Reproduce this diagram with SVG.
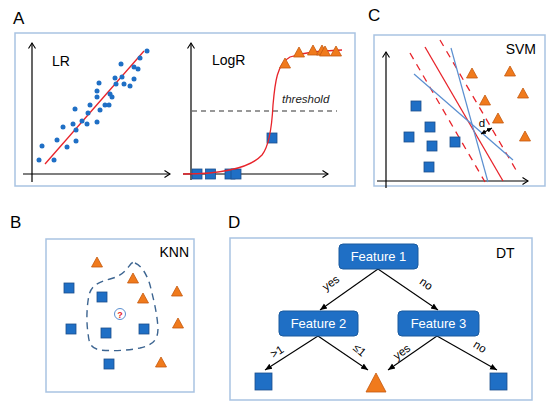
<svg xmlns="http://www.w3.org/2000/svg" width="550" height="409" viewBox="0 0 550 409">
<defs>
<marker id="ax" markerWidth="8" markerHeight="8" refX="6" refY="4" orient="auto" markerUnits="userSpaceOnUse">
<path d="M0.5,0.5 L6,4 L0.5,7.5" fill="none" stroke="#000" stroke-width="1.1"/>
</marker>
<marker id="ah" markerWidth="8" markerHeight="8" refX="7" refY="4" orient="auto" markerUnits="userSpaceOnUse">
<path d="M0,1 L7,4 L0,7 Z" fill="#000"/>
</marker>
<marker id="dh" markerWidth="6" markerHeight="6" refX="5" refY="3" orient="auto-start-reverse" markerUnits="userSpaceOnUse">
<path d="M0,0.5 L5,3 L0,5.5 Z" fill="#000"/>
</marker>
<path id="tri" d="M0,-5 L5.5,5 L-5.5,5 Z"/>
<rect id="sq" x="-5" y="-5" width="10" height="10"/>
</defs>
<style>
text{font-family:"Liberation Sans",Arial,sans-serif;}
.panel{fill:#fff;stroke:#a9c3e2;stroke-width:1.5;}
.lbl{font-size:17px;fill:#000;}
.ttl{font-size:14px;fill:#000;}
.axis{stroke:#000;stroke-width:1.2;fill:none;marker-end:url(#ax);}
.dot{fill:#1f6fc5;}
.s{fill:#1f6fc5;stroke:#1c4f8c;stroke-width:0.8;}
.t{fill:#f07a1c;stroke:#c4590f;stroke-width:0.8;}
.red{stroke:#e8232a;stroke-width:1.3;fill:none;}
.redd{stroke:#e8232a;stroke-width:1.3;fill:none;stroke-dasharray:7,6;}
.blu{stroke:#5b8fd0;stroke-width:1.2;fill:none;}
.node rect{fill:#1f6fc5;stroke:#1a5a9e;stroke-width:1;}
.node text{fill:#fff;font-size:13px;text-anchor:middle;}
.edge{stroke:#000;stroke-width:1.1;fill:none;marker-end:url(#ah);}
.el{font-size:11.5px;fill:#000;text-anchor:middle;}
</style>
<rect width="550" height="409" fill="#fff"/>

<g id="panelA">
<text class="lbl" x="13" y="24">A</text>
<rect class="panel" x="15" y="33" width="340" height="153"/>
<g id="LR">
<line class="axis" x1="32" y1="182" x2="32" y2="43"/>
<line class="axis" x1="23" y1="174" x2="170" y2="174"/>
<text class="ttl" x="52" y="66">LR</text>
<line class="red" x1="45" y1="164" x2="144" y2="51"/>
<g class="dot">
<circle cx="147" cy="51" r="2.5"/><circle cx="140" cy="58" r="2.5"/><circle cx="121" cy="64" r="2.5"/>
<circle cx="134" cy="67" r="2.5"/><circle cx="138" cy="69" r="2.5"/><circle cx="115" cy="78" r="2.5"/>
<circle cx="122" cy="77" r="2.5"/><circle cx="134" cy="79" r="2.5"/><circle cx="99" cy="83" r="2.5"/>
<circle cx="116" cy="84" r="2.5"/><circle cx="124" cy="84" r="2.5"/><circle cx="130" cy="86" r="2.5"/>
<circle cx="97" cy="91" r="2.5"/><circle cx="97" cy="97" r="2.5"/><circle cx="110" cy="94" r="2.5"/>
<circle cx="112" cy="97" r="2.5"/><circle cx="105" cy="105" r="2.5"/><circle cx="109" cy="105" r="2.5"/>
<circle cx="90" cy="105" r="2.5"/><circle cx="75" cy="109" r="2.5"/><circle cx="100" cy="110" r="2.5"/>
<circle cx="88" cy="113" r="2.5"/><circle cx="82" cy="121" r="2.5"/><circle cx="73" cy="124" r="2.5"/>
<circle cx="87" cy="124" r="2.5"/><circle cx="97" cy="122" r="2.5"/><circle cx="63" cy="127" r="2.5"/>
<circle cx="76" cy="130" r="2.5"/><circle cx="57" cy="140" r="2.5"/><circle cx="76" cy="141" r="2.5"/>
<circle cx="67" cy="147" r="2.5"/><circle cx="42" cy="146" r="2.5"/><circle cx="39" cy="160" r="2.5"/>
<circle cx="54" cy="160" r="2.5"/>
</g>
</g>
<g id="LogR">
<line class="axis" x1="191" y1="180" x2="191" y2="43"/>
<line class="axis" x1="183" y1="174" x2="328" y2="174"/>
<text class="ttl" x="212" y="65">LogR</text>
<line x1="192" y1="111" x2="337" y2="111" stroke="#333" stroke-width="1.2" stroke-dasharray="5,4"/>
<text x="282" y="103" font-size="11.5" font-style="italic" fill="#222">threshold</text>
<use href="#sq" class="s" x="197" y="174"/>
<use href="#sq" class="s" x="210.5" y="174"/>
<use href="#sq" class="s" x="230" y="174"/>
<use href="#sq" class="s" x="236" y="174"/>
<use href="#sq" class="s" x="272" y="138"/>
<path class="red" d="M183,174 C220,174 250,168 262,155 C270,145 272,125 273,105 C275,82 277,64 290,57 C305,52 320,51 342,50"/>
<use href="#tri" class="t" x="285" y="63"/>
<use href="#tri" class="t" x="299" y="52"/>
<use href="#tri" class="t" x="313" y="50"/>
<use href="#tri" class="t" x="322" y="50"/>
<use href="#tri" class="t" x="325" y="51"/>
<use href="#tri" class="t" x="336" y="51"/>
</g>
</g>

<g id="panelC">
<text class="lbl" x="368" y="21">C</text>
<rect class="panel" x="374" y="35" width="171" height="151"/>
<line class="axis" x1="386" y1="188" x2="386" y2="52"/>
<line class="axis" x1="377" y1="181" x2="528" y2="181"/>
<text class="ttl" x="536" y="54" text-anchor="end">SVM</text>
<line class="redd" x1="410" y1="53" x2="485" y2="182"/>
<line class="red" x1="425" y1="47" x2="503" y2="181"/>
<line class="redd" x1="440" y1="40" x2="516" y2="170"/>
<line class="blu" x1="451" y1="48" x2="488" y2="182"/>
<line class="blu" x1="414" y1="74" x2="513" y2="160"/>
<line x1="481" y1="134" x2="492" y2="128" stroke="#000" stroke-width="1.1" marker-start="url(#dh)" marker-end="url(#dh)"/>
<text x="482" y="127" font-size="11.5" text-anchor="middle">d</text>
<use href="#sq" class="s" x="416" y="106"/>
<use href="#sq" class="s" x="430" y="127"/>
<use href="#sq" class="s" x="409" y="137"/>
<use href="#sq" class="s" x="432" y="146"/>
<use href="#sq" class="s" x="455" y="142"/>
<use href="#sq" class="s" x="429" y="167"/>
<use href="#tri" class="t" x="472" y="73"/>
<use href="#tri" class="t" x="510" y="71"/>
<use href="#tri" class="t" x="523" y="93"/>
<use href="#tri" class="t" x="485" y="100"/>
<use href="#tri" class="t" x="498" y="118"/>
<use href="#tri" class="t" x="525" y="136"/>
</g>

<g id="panelB">
<text class="lbl" x="10" y="228">B</text>
<rect class="panel" x="46" y="239" width="148" height="153"/>
<text class="ttl" x="189" y="257" text-anchor="end">KNN</text>
<path d="M135,263 C142,266 147,275 150,285 C153,297 157,312 158,328 C158,340 153,345 140,348 C125,351 110,351 100,350 C90,348 89,343 88,333 C86,320 87,305 89,295 C92,284 100,282 110,279 C122,276 126,270 130,265 C132,262 134,262 135,263 Z" fill="none" stroke="#3d6591" stroke-width="1.4" stroke-dasharray="7,5"/>
<circle cx="120" cy="314" r="5.5" fill="#fff" stroke="#5b8fd0" stroke-width="1"/>
<text x="120" y="317.5" font-size="9" font-weight="bold" fill="#e8232a" text-anchor="middle">?</text>
<use href="#sq" class="s" x="69" y="288"/>
<use href="#sq" class="s" x="102" y="297"/>
<use href="#sq" class="s" x="71" y="329"/>
<use href="#sq" class="s" x="106" y="333"/>
<use href="#sq" class="s" x="144" y="329"/>
<use href="#sq" class="s" x="109" y="364"/>
<use href="#tri" class="t" x="97" y="262"/>
<use href="#tri" class="t" x="133" y="278"/>
<use href="#tri" class="t" x="143" y="298"/>
<use href="#tri" class="t" x="177" y="291"/>
<use href="#tri" class="t" x="178" y="323"/>
<use href="#tri" class="t" x="161" y="362"/>
</g>

<g id="panelD">
<text class="lbl" x="228" y="228">D</text>
<rect class="panel" x="230" y="238" width="302" height="162"/>
<text class="ttl" x="496" y="258">DT</text>
</g>

<g id="connectors">
<line class="edge" x1="378" y1="269" x2="320" y2="310"/>
<line class="edge" x1="378" y1="269" x2="438" y2="310"/>
<line class="edge" x1="318" y1="336" x2="265" y2="370"/>
<line class="edge" x1="318" y1="336" x2="368" y2="370"/>
<line class="edge" x1="437" y1="336" x2="388" y2="370"/>
<line class="edge" x1="437" y1="336" x2="497" y2="370"/>
<text class="el" transform="translate(333,286) rotate(-35)">yes</text>
<text class="el" transform="translate(424,287) rotate(35)">no</text>
<text class="el" transform="translate(279,355) rotate(-33)">&gt;1</text>
<text class="el" transform="translate(357,353) rotate(40)">≤1</text>
<text class="el" transform="translate(404,355) rotate(-35)">yes</text>
<text class="el" transform="translate(478,350) rotate(32)">no</text>
</g>

<g id="feature1" class="node"><rect x="339" y="244" width="79" height="25" rx="4"/><text x="378.5" y="261">Feature 1</text></g>
<g id="feature2" class="node"><rect x="279" y="311" width="79" height="25" rx="4"/><text x="318.5" y="328">Feature 2</text></g>
<g id="feature3" class="node"><rect x="398" y="311" width="81" height="25" rx="4"/><text x="438.5" y="328">Feature 3</text></g>
<g id="leafSquareL"><rect class="s" x="255" y="373" width="17" height="17"/></g>
<g id="leafTriangle"><path class="t" d="M376,373 L386,392 L366,392 Z"/></g>
<g id="leafSquareR"><rect class="s" x="490" y="373" width="17" height="17"/></g>
</svg>
